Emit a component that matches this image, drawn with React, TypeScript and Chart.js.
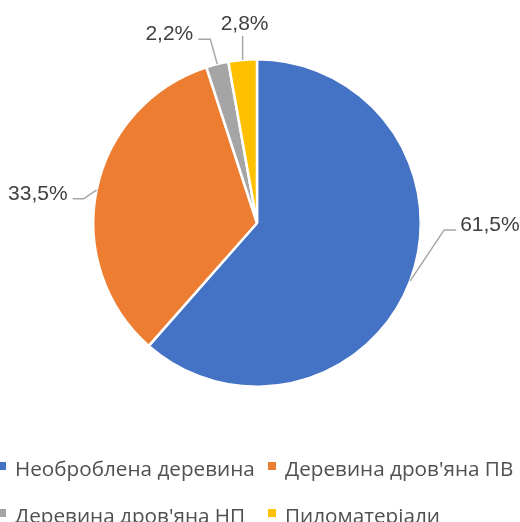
import React, { useEffect, useRef } from "react";
import { Chart, registerables } from "chart.js";

Chart.register(...registerables);

const categories = [
  "Необроблена деревина",
  "Деревина дров'яна ПВ",
  "Деревина дров'яна НП",
  "Пиломатеріали",
];
const shares = [61.5, 33.5, 2.2, 2.8];
const valueLabels = ["61,5%", "33,5%", "2,2%", "2,8%"];
const colors = ["#4472C4", "#ED7D31", "#A5A5A5", "#FFC000"];

const TEXT_COLOR = "#404040";
const LEGEND_COLOR = "#505050";
const LEADER_COLOR = "#A6A6A6";
const FONT = "'Liberation Sans', Arial, sans-serif";
const LEGEND_FONT = "'Open Sans', 'Noto Sans', sans-serif";

// leader geometry (style): elbow offset from slice edge, horizontal run
const leaderStyle = [
  { elbow: [34, -51], run: 12, side: "right" },
  { elbow: [-13, 9], run: -11, side: "left" },
  { elbow: [-7, -25], run: -12, side: "left" },
  { elbow: [0, -24], run: 0, side: "top" },
];

const labelPlugin = {
  id: "excelLabels",
  afterDraw(chart: any) {
    const ctx = chart.ctx;
    const meta = chart.getDatasetMeta(0);
    ctx.save();
    meta.data.forEach((el: any, i: number) => {
      const p = el.getProps(["x", "y", "startAngle", "endAngle", "outerRadius"], true);
      const mid = (p.startAngle + p.endAngle) / 2;
      const px = p.x + Math.cos(mid) * p.outerRadius;
      const py = p.y + Math.sin(mid) * p.outerRadius;
      const st = leaderStyle[i];
      const ex = px + st.elbow[0];
      const ey = py + st.elbow[1];
      ctx.strokeStyle = LEADER_COLOR;
      ctx.lineWidth = 1.5;
      ctx.beginPath();
      ctx.moveTo(px, py);
      ctx.lineTo(ex, ey);
      ctx.lineTo(ex + st.run, ey);
      ctx.stroke();
      ctx.fillStyle = TEXT_COLOR;
      ctx.font = `21px ${FONT}`;
      ctx.textBaseline = "alphabetic";
      if (st.side === "right") {
        ctx.textAlign = "left";
        ctx.fillText(valueLabels[i], ex + st.run + 4, ey + 1);
      } else if (st.side === "left") {
        ctx.textAlign = "right";
        ctx.fillText(valueLabels[i], ex + st.run - 5, ey + 1);
      } else {
        ctx.textAlign = "center";
        ctx.fillText(valueLabels[i], ex + 2, ey - 6);
      }
    });

    // legend (Excel-style, two columns, left aligned)
    const colX = [15, 285];
    const rowY = [476, 523];
    ctx.font = `20px ${LEGEND_FONT}`;
    const w = ctx.measureText(categories[0]).width;
    const size = Math.max(14, Math.min(26, (20 * 240) / (w || 240)));
    ctx.font = `${size.toFixed(1)}px ${LEGEND_FONT}`;
    ctx.textAlign = "left";
    ctx.textBaseline = "alphabetic";
    categories.forEach((name, i) => {
      const tx = colX[i % 2];
      const ty = rowY[Math.floor(i / 2)];
      ctx.fillStyle = colors[i];
      ctx.fillRect(tx - 17, ty - 14, 8, 8);
      ctx.fillStyle = LEGEND_COLOR;
      ctx.fillText(name, tx, ty);
    });
    ctx.restore();
  },
};

export default function App() {
  const ref = useRef<HTMLCanvasElement | null>(null);
  useEffect(() => {
    if (!ref.current) return;
    const chart = new Chart(ref.current, {
      type: "pie",
      data: {
        labels: categories,
        datasets: [
          {
            data: shares,
            backgroundColor: colors,
            borderColor: "#FFFFFF",
            borderWidth: 2.5,
          },
        ],
      },
      options: {
        responsive: false,
        animation: false,
        layout: { padding: { left: 92, right: 98, top: 58, bottom: 134 } },
        plugins: {
          legend: { display: false },
          tooltip: { enabled: false },
        },
      },
      plugins: [labelPlugin],
    });
    return () => chart.destroy();
  }, []);
  return (
    <div style={{ position: "absolute", left: 0, top: 0, width: 520, height: 522, background: "#fff" }}>
      <canvas ref={ref} width={520} height={522} style={{ display: "block" }} />
    </div>
  );
}
